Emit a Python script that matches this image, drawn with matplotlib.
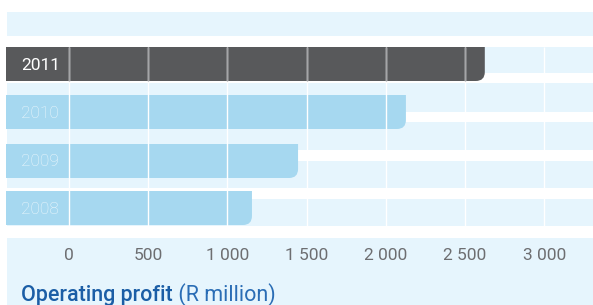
import matplotlib.pyplot as plt
from matplotlib.path import Path
from matplotlib.patches import PathPatch

plt.rcParams['font.family'] = ['Roboto', 'DejaVu Sans']

# data
years = ['2011', '2010', '2009', '2008']
profit = [2625, 2127, 1446, 1155]   # R million
ticks = [0, 500, 1000, 1500, 2000, 2500, 3000]
tick_labels = ['0', '500', '1 000', '1 500', '2 000', '2 500', '3 000']

band_col = '#e6f5fd'
light_bar = '#a6d8f0'
dark_bar = '#58595b'
title_blue = '#1b5ea6'

W, H = 593, 305
fig = plt.figure(figsize=(W / 100, H / 100), dpi=100)
ax = fig.add_axes([0, 0, 1, 1])
# x in R million, y in pixel rows (top = 0)
u = 500 / 79.2          # data units per pixel
x0 = 69                 # pixel column of zero
ax.set_xlim(-x0 * u, (W - x0) * u)
ax.set_ylim(H, 0)
ax.axis('off')

# background bands
bands = [(12, 36), (47, 73), (83, 112), (122, 150), (161, 188), (199, 226), (238, H)]
for top, bot in bands:
    ax.axhspan(top, bot, xmin=7 / W, xmax=1, color=band_col, lw=0, zorder=0)

# bars with a rounded lower-right corner
bar_tops = [47, 95, 144, 191]
bar_h = 34
left = -63 * u
r = 9
for i, (yr, v) in enumerate(zip(years, profit)):
    top = bar_tops[i]
    bot = top + bar_h
    verts = [(left, top), (v, top), (v, bot - r), (v, bot), (v - r * u, bot),
             (left, bot), (left, top)]
    codes = [Path.MOVETO, Path.LINETO, Path.LINETO, Path.CURVE3, Path.CURVE3,
             Path.LINETO, Path.CLOSEPOLY]
    col = dark_bar if i == 0 else light_bar
    ax.add_patch(PathPatch(Path(verts, codes), fc=col, ec='none', zorder=1))
    tc = 'white' if i == 0 else '#eef8fd'
    fw = 'normal' if i == 0 else 'light'
    ax.text(-48 * u, top + bar_h / 2 + 1, yr, color=tc, fontsize=12.5,
            fontweight=fw, va='center', ha='left', zorder=5)

# grid lines
ax.vlines(ticks, 47, 226, color='white', lw=1, zorder=3)
dark_ticks = [t for t in ticks if t < profit[0]]
ax.vlines(dark_ticks, 47, 47 + bar_h, color='#a4a5a7', lw=1, zorder=4)

# tick labels
for t, lab in zip(ticks, tick_labels):
    ax.text(t, 256, lab, color='#6d6e71', fontsize=12.5, fontweight='normal',
            ha='center', va='center')

# title
t1 = ax.text(-48 * u, 295, 'Operating profit', color=title_blue, fontsize=15.5,
             fontweight='medium', ha='left', va='center')
ax.annotate(' (R million)', xy=(1, 0), xycoords=t1, color='#2a6db5',
            fontsize=15.5, fontweight='normal', ha='left', va='bottom')

fig.savefig('out.png', dpi=100)
